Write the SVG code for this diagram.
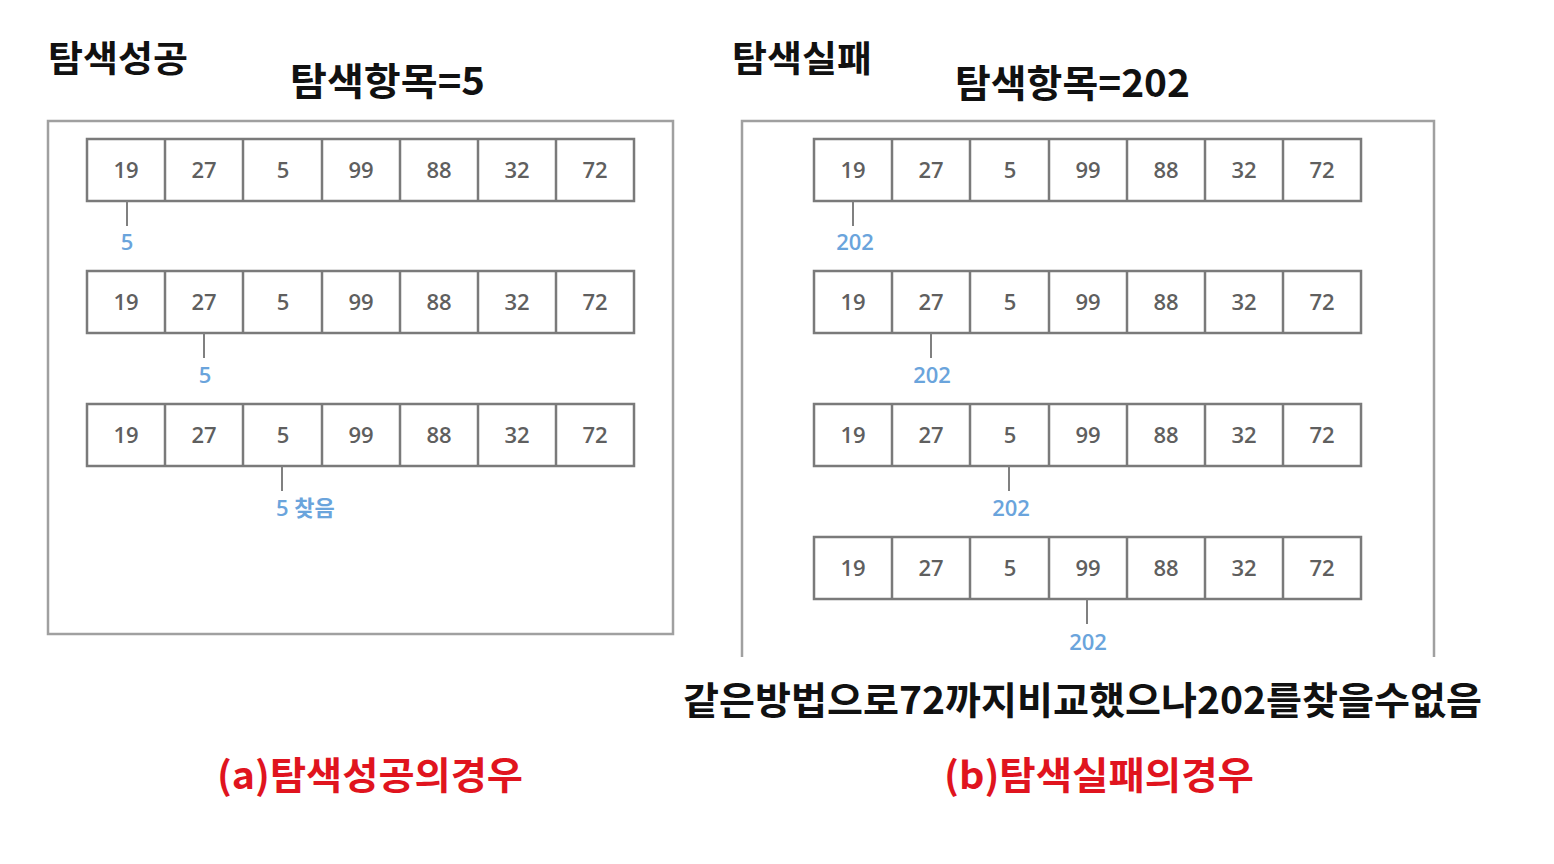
<svg xmlns="http://www.w3.org/2000/svg" width="1554" height="864" viewBox="0 0 1554 864">
<style>
.frame{fill:none;stroke:#a0a0a0;stroke-width:2.5}
.cell{fill:#fff;stroke:#7a7a7a;stroke-width:2.5}
.div{stroke:#7a7a7a;stroke-width:2.5}
.num{font-family:"Open Sans","Liberation Sans",sans-serif;font-weight:600;font-size:22px;fill:#5f5f5f;text-anchor:middle;dominant-baseline:central}
.ptr{stroke:#808080;stroke-width:2}
.lbl{font-family:"Open Sans","Noto Sans CJK KR",sans-serif;font-weight:600;font-size:22px;fill:#6aa4dc;dominant-baseline:central}
.title{font-family:"Noto Sans CJK KR",sans-serif;font-weight:bold;fill:#111;dominant-baseline:central}
.cap{font-family:"Noto Sans CJK KR",sans-serif;font-weight:bold;fill:#e0141e;dominant-baseline:central;font-size:38px}
</style>
<defs>
<g id="arr">
<rect class="cell" x="0" y="0" width="547" height="62"/>
<line class="div" x1="78" y1="0" x2="78" y2="62"/>
<line class="div" x1="156" y1="0" x2="156" y2="62"/>
<line class="div" x1="235" y1="0" x2="235" y2="62"/>
<line class="div" x1="313" y1="0" x2="313" y2="62"/>
<line class="div" x1="391" y1="0" x2="391" y2="62"/>
<line class="div" x1="469" y1="0" x2="469" y2="62"/>
<text class="num" x="39" y="30">19</text>
<text class="num" x="117" y="30">27</text>
<text class="num" x="196" y="30">5</text>
<text class="num" x="274" y="30">99</text>
<text class="num" x="352" y="30">88</text>
<text class="num" x="430" y="30">32</text>
<text class="num" x="508" y="30">72</text>
</g>
</defs>

<g id="titles">
<text class="title" x="48" y="56" font-size="36" textLength="140" lengthAdjust="spacingAndGlyphs">탐색성공</text>
<text class="title" x="290" y="78" font-size="38" textLength="195" lengthAdjust="spacingAndGlyphs">탐색항목=5</text>
<text class="title" x="732" y="56" font-size="36" textLength="140" lengthAdjust="spacingAndGlyphs">탐색실패</text>
<text class="title" x="955" y="80" font-size="38" textLength="235" lengthAdjust="spacingAndGlyphs">탐색항목=202</text>
</g>

<g id="left-panel">
<rect class="frame" x="48" y="121" width="625" height="513"/>
<g id="L1"><use href="#arr" x="87" y="139"/></g>
<g id="L2"><use href="#arr" x="87" y="271"/></g>
<g id="L3"><use href="#arr" x="87" y="404"/></g>
</g>

<g id="right-panel">
<path class="frame" d="M742,657 V121 H1434 V657"/>
<g id="R1"><use href="#arr" x="814" y="139"/></g>
<g id="R2"><use href="#arr" x="814" y="271"/></g>
<g id="R3"><use href="#arr" x="814" y="404"/></g>
<g id="R4"><use href="#arr" x="814" y="537"/></g>
</g>

<g id="connectors">
<line class="ptr" x1="127" y1="201" x2="127" y2="226"/>
<line class="ptr" x1="204" y1="333" x2="204" y2="358"/>
<line class="ptr" x1="282" y1="466" x2="282" y2="491"/>
<line class="ptr" x1="853" y1="201" x2="853" y2="226"/>
<line class="ptr" x1="931" y1="333" x2="931" y2="358"/>
<line class="ptr" x1="1009" y1="466" x2="1009" y2="491"/>
<line class="ptr" x1="1087" y1="599" x2="1087" y2="624"/>
</g>

<g id="labels">
<text class="lbl" x="127" y="241" text-anchor="middle">5</text>
<text class="lbl" x="205" y="374" text-anchor="middle">5</text>
<text class="lbl" x="276" y="507">5 찾음</text>
<text class="lbl" x="855" y="241" text-anchor="middle">202</text>
<text class="lbl" x="932" y="374" text-anchor="middle">202</text>
<text class="lbl" x="1011" y="507" text-anchor="middle">202</text>
<text class="lbl" x="1088" y="641" text-anchor="middle">202</text>
</g>

<g id="captions">
<text class="title" x="683" y="697" font-size="38" textLength="799" lengthAdjust="spacingAndGlyphs">같은방법으로72까지비교했으나202를찾을수없음</text>
<text class="cap" x="217" y="772" textLength="306" lengthAdjust="spacingAndGlyphs">(a)탐색성공의경우</text>
<text class="cap" x="944" y="772" textLength="310" lengthAdjust="spacingAndGlyphs">(b)탐색실패의경우</text>
</g>
</svg>
